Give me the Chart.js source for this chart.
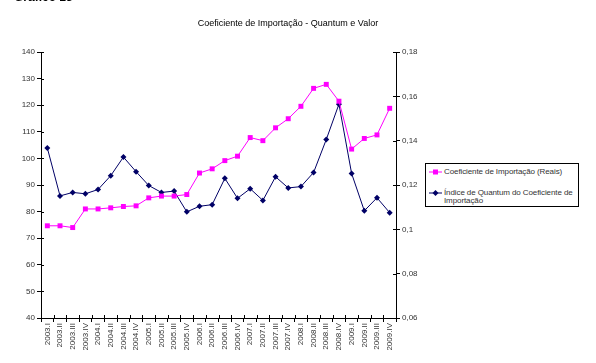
<!DOCTYPE html>
<html>
<head>
<meta charset="utf-8">
<script src="https://cdn.jsdelivr.net/npm/chart.js@4.4.0/dist/chart.umd.min.js"></script>
<style>
  html, body { margin: 0; padding: 0; background: #fff; }
  #wrap { position: relative; width: 596px; height: 363px; overflow: hidden; font-family: "Liberation Sans", Arial, sans-serif; }
  #chart { position: absolute; left: 0; top: 0; }
  #gtitle { position: absolute; left: 14px; top: -10px; font: bold 12px "Liberation Sans", Arial, sans-serif; color: #000; white-space: nowrap; }
  #title { position: absolute; left: 0; width: 576px; top: 18px; text-align: center; font: 9px "Liberation Sans", Arial, sans-serif; color: #000; white-space: nowrap; }
  #legend { position: absolute; left: 425px; top: 163px; width: 152px; height: 42px; border: 1px solid #000; background: #fff; font: 8px "Liberation Sans", Arial, sans-serif; color: #333; box-sizing: content-box; }
  .item { position: absolute; left: 3px; }
  .sample { position: absolute; left: 0; width: 13px; height: 8px; }
  .txt { position: absolute; left: 15px; white-space: nowrap; line-height: 8px; letter-spacing: -0.1px; }
</style>
</head>
<body>
<div id="wrap">
  <canvas id="chart" width="596" height="363"></canvas>
  <div id="gtitle">Gráfico 13</div>
  <div id="title">Coeficiente de Importação - Quantum e Valor</div>
  <div id="legend">
    <div class="item" style="top:4px;">
      <svg class="sample" width="13" height="8" style="top:0"><line x1="0" y1="4" x2="13" y2="4" stroke="#FF00FF" stroke-width="1"/><rect x="4" y="1.5" width="5" height="5" fill="#FF00FF"/></svg>
      <div class="txt" style="top:0">Coeficiente de Importação (Reais)</div>
    </div>
    <div class="item" style="top:25px;">
      <svg class="sample" width="13" height="8" style="top:0"><line x1="0" y1="4" x2="13" y2="4" stroke="#000066" stroke-width="1"/><polygon points="6.5,1 9.5,4 6.5,7 3.5,4" fill="#000066"/></svg>
      <div class="txt" style="top:0">Índice de Quantum do Coeficiente de<br>Importação</div>
    </div>
  </div>
</div>
<script>
const categories = [
  "2003.I","2003.II","2003.III","2003.IV",
  "2004.I","2004.II","2004.III","2004.IV",
  "2005.I","2005.II","2005.III","2005.IV",
  "2006.I","2006.II","2006.III","2006.IV",
  "2007.I","2007.II","2007.III","2007.IV",
  "2008.I","2008.II","2008.III","2008.IV",
  "2009.I","2009.II","2009.III","2009.IV"
];
const coeficienteReais = [
  0.1016, 0.1016, 0.1008, 0.1092,
  0.1092, 0.1097, 0.1103, 0.1106,
  0.1142, 0.1150, 0.1150, 0.1157,
  0.1254, 0.1273, 0.1310, 0.1330,
  0.1414, 0.1400, 0.1458, 0.1499,
  0.1555, 0.1636, 0.1654, 0.1578,
  0.1362, 0.1410, 0.1426, 0.1546
];
const indiceQuantum = [
  103.9, 85.9, 87.2, 86.7,
  88.3, 93.5, 100.5, 95.0,
  89.8, 87.2, 87.7, 79.9,
  82.0, 82.6, 92.5, 85.0,
  88.6, 84.2, 93.1, 88.9,
  89.4, 94.7, 107.1, 120.4,
  94.3, 80.3, 85.2, 79.6
];
const leftTicks = [40, 50, 60, 70, 80, 90, 100, 110, 120, 130, 140];
const rightTicks = [0.06, 0.08, 0.10, 0.12, 0.14, 0.16, 0.18];
const rightTickLabels = ["0,06", "0,08", "0,1", "0,12", "0,14", "0,16", "0,18"];

const tickFont = { family: "'Liberation Sans', Arial, sans-serif", size: 8 };
const tickColor = '#333';

const innerTicks = {
  id: 'innerTicks',
  afterDraw(chart) {
    const ctx = chart.ctx;
    const ca = chart.chartArea;
    ctx.save();
    ctx.strokeStyle = '#000';
    ctx.lineWidth = 1;
    const y = chart.scales.y, y2 = chart.scales.y2, x = chart.scales.x;
    y.ticks.forEach((t, i) => {
      const p = Math.round(y.getPixelForTick(i)) + 0.5;
      ctx.beginPath(); ctx.moveTo(ca.left, p); ctx.lineTo(ca.left + 3, p); ctx.stroke();
    });
    y2.ticks.forEach((t, i) => {
      const p = Math.round(y2.getPixelForTick(i)) + 0.5;
      ctx.beginPath(); ctx.moveTo(ca.right, p); ctx.lineTo(ca.right - 3, p); ctx.stroke();
    });
    const n = categories.length;
    for (let i = 0; i <= n; i++) {
      const p = Math.round(x.getPixelForValue(i - 0.5)) + 0.5;
      ctx.beginPath(); ctx.moveTo(p, ca.bottom); ctx.lineTo(p, ca.bottom - 3); ctx.stroke();
    }
    ctx.restore();
  }
};

new Chart(document.getElementById('chart'), {
  type: 'line',
  data: {
    labels: categories,
    datasets: [
      {
        label: 'Coeficiente de Importação (Reais)',
        data: coeficienteReais,
        yAxisID: 'y2',
        borderColor: '#FF00FF',
        backgroundColor: '#FF00FF',
        borderWidth: 1,
        pointStyle: 'rect',
        pointRadius: 3.5,
        pointBorderWidth: 0,
        tension: 0
      },
      {
        label: 'Índice de Quantum do Coeficiente de Importação',
        data: indiceQuantum,
        yAxisID: 'y',
        borderColor: '#000066',
        backgroundColor: '#000066',
        borderWidth: 1,
        pointStyle: 'rectRot',
        pointRadius: 3,
        pointBorderWidth: 0,
        tension: 0
      }
    ]
  },
  options: {
    responsive: false,
    animation: false,
    layout: { padding: { top: 52, left: 0, right: 0, bottom: 0 } },
    plugins: { legend: { display: false }, tooltip: { enabled: false }, title: { display: false } },
    scales: {
      x: {
        type: 'category',
        offset: true,
        grid: { display: true, drawOnChartArea: false, offset: true, tickLength: 4, color: '#000', tickColor: '#000' },
        border: { display: true, color: '#000', width: 1 },
        ticks: { autoSkip: false, minRotation: 90, maxRotation: 90, padding: 1, font: tickFont, color: tickColor },
        afterFit(s) { s.height = 45; }
      },
      y: {
        position: 'left',
        min: 40, max: 140,
        afterBuildTicks(s) { s.ticks = leftTicks.map(v => ({ value: v })); },
        grid: { display: true, drawOnChartArea: false, tickLength: 4, color: '#000', tickColor: '#000' },
        border: { display: true, color: '#000', width: 1 },
        ticks: { font: tickFont, color: tickColor, padding: 2 },
        afterFit(s) { s.width = 41; }
      },
      y2: {
        position: 'right',
        min: 0.06, max: 0.18,
        afterBuildTicks(s) { s.ticks = rightTicks.map(v => ({ value: v })); },
        grid: { display: true, drawOnChartArea: false, tickLength: 4, color: '#000', tickColor: '#000' },
        border: { display: true, color: '#000', width: 1 },
        ticks: { font: tickFont, color: tickColor, padding: 2, callback: (v, i) => rightTickLabels[i] },
        afterFit(s) { s.width = 200; }
      }
    }
  },
  plugins: [innerTicks]
});
</script>
</body>
</html>
